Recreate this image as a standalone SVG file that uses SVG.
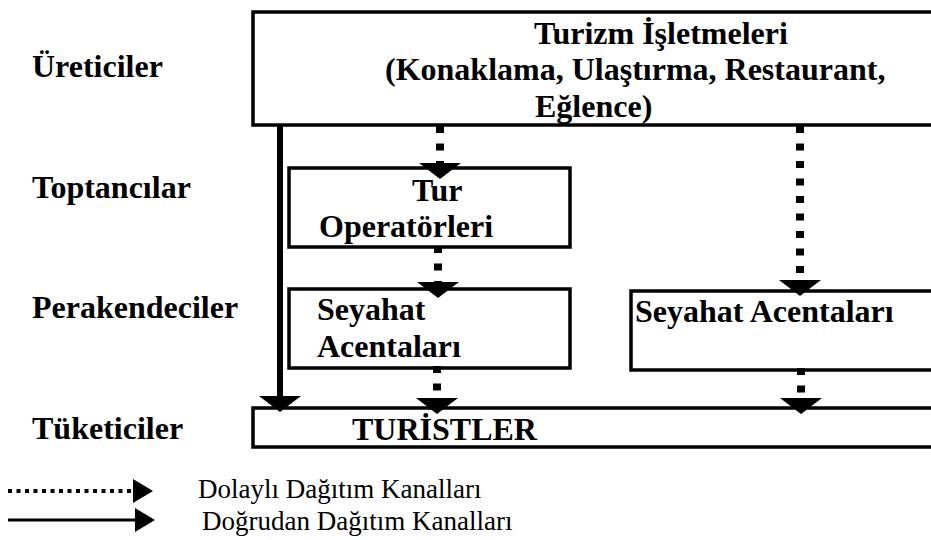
<svg xmlns="http://www.w3.org/2000/svg" width="931" height="540" viewBox="0 0 931 540">
  <style>
    .lbl { font-family: "Liberation Serif", "Times New Roman", serif; font-weight: bold; font-size: 32px; fill: #000; }
    .leg { font-family: "Liberation Serif", "Times New Roman", serif; font-size: 27px; fill: #000; }
    .box { fill: #fff; stroke: #000; stroke-width: 3.5; }
    .dot { fill: none; stroke: #000; stroke-width: 8; stroke-dasharray: 7 10.5; }
    .solid { fill: none; stroke: #000; stroke-width: 6; }
  </style>
  <defs>
    <marker id="head" viewBox="0 0 16 42" refX="0" refY="21" markerWidth="16" markerHeight="42" orient="auto" markerUnits="userSpaceOnUse">
      <path d="M0,0 L16,21 L0,42 z" fill="#000"/>
    </marker>
    <marker id="legHead" viewBox="0 0 20 24" refX="0" refY="12" markerWidth="20" markerHeight="24" orient="auto" markerUnits="userSpaceOnUse">
      <path d="M0,0 L20,12 L0,24 z" fill="#000"/>
    </marker>
  </defs>
  <rect width="931" height="540" fill="#fff"/>

  <g id="level-labels">
    <text class="lbl" x="32" y="77">Üreticiler</text>
    <text class="lbl" x="32" y="198">Toptancılar</text>
    <text class="lbl" x="32" y="318">Perakendeciler</text>
    <text class="lbl" x="32" y="439">Tüketiciler</text>
  </g>

  <g id="node-turizm">
    <rect class="box" x="253" y="12" width="700" height="113"/>
    <text class="lbl" x="534" y="44">Turizm İşletmeleri</text>
    <text class="lbl" x="385" y="80">(Konaklama, Ulaştırma, Restaurant,</text>
    <text class="lbl" x="535" y="117">Eğlence)</text>
  </g>

  <g id="node-tur-operatorleri">
    <rect class="box" x="289" y="168" width="281" height="79"/>
    <text class="lbl" x="412" y="201">Tur</text>
    <text class="lbl" x="319" y="237">Operatörleri</text>
  </g>

  <g id="node-seyahat-1">
    <rect class="box" x="289" y="289" width="281" height="79"/>
    <text class="lbl" x="317" y="320">Seyahat</text>
    <text class="lbl" x="317" y="357">Acentaları</text>
  </g>

  <g id="node-seyahat-2">
    <rect class="box" x="631" y="291" width="320" height="79"/>
    <text class="lbl" x="635" y="322">Seyahat Acentaları</text>
  </g>

  <g id="node-turistler">
    <rect class="box" x="253" y="408" width="700" height="39"/>
    <text class="lbl" x="352" y="440">TURİSTLER</text>
  </g>

  <g id="connectors">
    <line class="solid" x1="280" y1="126" x2="280" y2="396" marker-end="url(#head)"/>
    <line class="dot" x1="440" y1="126" x2="440" y2="163" marker-end="url(#head)"/>
    <line class="dot" x1="438" y1="246" x2="438" y2="282" marker-end="url(#head)"/>
    <line class="dot" x1="437" y1="366" x2="437" y2="398" marker-end="url(#head)"/>
    <line class="dot" x1="800" y1="126" x2="800" y2="280" marker-end="url(#head)"/>
    <line class="dot" x1="801" y1="368" x2="801" y2="398" marker-end="url(#head)"/>
  </g>

  <g id="legend">
    <line x1="8" y1="491" x2="133" y2="491" stroke="#000" stroke-width="4" stroke-dasharray="4 4.5" marker-end="url(#legHead)"/>
    <text class="leg" x="198" y="498">Dolaylı Dağıtım Kanalları</text>
    <line x1="8" y1="520" x2="135" y2="520" stroke="#000" stroke-width="3" marker-end="url(#legHead)"/>
    <text class="leg" x="202" y="530">Doğrudan Dağıtım Kanalları</text>
  </g>
</svg>
